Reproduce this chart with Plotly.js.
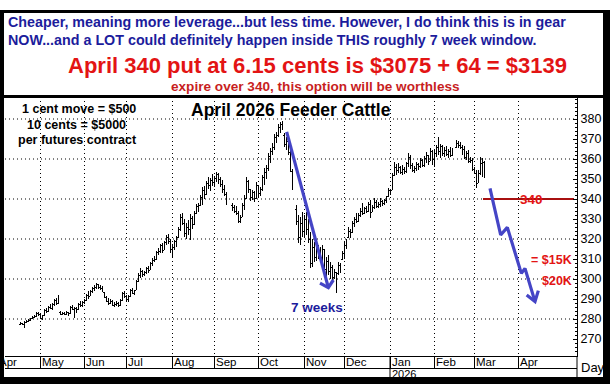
<!DOCTYPE html>
<html><head><meta charset="utf-8">
<script src="https://cdn.plot.ly/plotly-3.0.1.min.js"></script>
<style>
html,body{margin:0;padding:0;background:#fff;}
#wrap{position:relative;width:610px;height:384px;overflow:hidden;background:#fff;}
#chart{position:absolute;left:0;top:0;width:610px;height:384px;}
.b{position:absolute;background:#000;pointer-events:none;}
#chart .ohlc path{shape-rendering:crispEdges !important;}
</style></head><body>
<div id="wrap"><div id="chart"></div>
<div class="b" style="left:0;top:10px;width:610px;height:3px"></div>
<div class="b" style="left:0;top:10px;width:4px;height:374px"></div>
<div class="b" style="left:603px;top:10px;width:7px;height:374px"></div>
<div class="b" style="left:0;top:377px;width:610px;height:7px"></div>
<div class="b" style="left:0;top:95px;width:610px;height:3px"></div>
</div>
<script>
// ---- data (daily bars, April 2026 Feeder Cattle) ----
const firstBarDate = '2025-04-17';
const highs = [
278.5,278,279,279.5,280,280.5,281.5,282,283.5,283.5,
282.5,282,285,285.5,286.5,287.5,288,290,290.5,292,
284,283.5,283.5,284,283.5,286.5,287,286,286,288,
289,289,290,292.5,294,294.5,296,297,298,297.5,
297,296.5,293.5,291.5,290.5,290,289.5,288.5,289,288.5,
290,293.5,294,292,292,295,295.5,294.5,299.5,303,
305.5,304.5,304,306,306.5,308.5,310.5,311.5,314,315.5,
317.5,318,319,322,322.5,320,317.5,319.5,321.5,326,
332.5,333,330,328,329.5,332.5,331.5,334,337.5,338,
342,346,346.5,349,351,350.5,352.5,351.5,353.5,353,
351,349.5,347,343.5,null,null,338,337,336.5,334,
332,338,342,351,349.5,345,344.5,344,348.5,347,
346,352,355.5,357,363,365.5,368,372.5,373.5,377.5,
378.7,379,373,371,370.5,366,355,null,337,332,
331,333.5,332,333.7,330,323.7,320,318.7,318,317,
316,317,315,311,312,308.7,307,305,303.7,308.7,
308,314,318.7,320,326.2,325,329,331,332.8,333,
335.5,337.8,336,336.5,338.7,339.5,337,340.3,339.5,338.5,
340.3,339.5,340,341.5,345.3,345,352.8,358.7,357.5,357.8,
356.5,357,356,358.5,362.8,362,358,356.5,358.7,358,
360.3,360,361.5,363.5,362,365.3,364.5,364.5,367,371.2,
367.5,367,366,366.5,365,366,365.5,null,369.5,369,
368.5,367,366.5,364,364.5,361,360.3,356,354.5,354.5,
361.2,360.5,359];
const lows = [
277,277,275.5,278,278.5,279,280,280.5,281,281.5,
280,279.5,281.5,283,283.5,285,284.5,286.5,287,287.5,
282,282,282,282,281.5,282.5,284.5,280.5,283,284.5,
286,286,287.5,289,290,291.5,293,294,295,295,
294.5,293.5,290.5,288.5,287,287.5,286.5,286,286.5,286,
286.5,289,290.5,289,288.5,291,292.5,292,294.5,298.5,
300.5,301,301.5,302.5,303,304.5,306.5,308.5,309.5,312,
313,313,314.5,317,317.5,313,310.5,314.5,316,320.5,
324,327,321,320,322,319.5,325,327,332.5,333.5,
336.5,337,340,342,345,344,346.5,346,348.5,347.5,
346,343,341.5,337,null,null,334,333,332,328,
327.8,331,334.5,340,343,339,339.5,338.5,340,341,
341.5,344,347,350,354,358,362,364.5,368,371,
373,374.5,366,364.5,362,353.5,344.5,null,327,318,
317,321,320.5,322,318,305.3,306,308.7,309,310,
309,306,303,300.3,302,300,298.7,300,292.8,302,
303,309.5,310,315,320.3,320.5,323,326.2,328,328.5,
331,332,332.5,333,333.7,330.5,333.5,335,335.3,335.3,
336,336.5,337,338,341,342,344.5,351.5,352,353,
352.5,352,352.5,353,356,355,353.7,352.8,354,354.5,
355.3,356,356,358,357,359,357,356.2,361,362,
360.3,361.5,361,361.5,360.3,361,361.5,null,365.5,365.3,
365,362,360,359.5,358,357.8,354,352.8,345.3,347.8,
352,351.2,350.3];
const opens = [
277.5,277.8,277.5,278.5,279,279.5,280.2,281,281.5,283,
282.5,280.5,281.8,284.5,284,286,285.5,287.5,289.5,288,
283.5,282.5,283,282.5,283.5,283,286,285,285.5,285,
287.5,287,288.5,289.5,292,291.5,294,295.5,296,297.5,
296,295.5,293.5,291,289,288,289,287,287.5,288,
287,289.5,293,291.5,290,291.5,294.5,293,294.5,299,
302,304,302.5,303.5,305.5,304.5,308,309.5,310,313.5,
314,317,314.5,318.5,321,319,315,316,319,321,
325,331,328,323,326,325,330.5,327.5,333,336.5,
337,341,344.5,342.5,348,347,349.5,348.5,350.5,352.5,
350,347.5,345,342.5,null,null,337,336,334,333,
329,331,337,340.5,349,345,341,343.5,340.5,347,
343,345,351,353.5,355.5,361.5,364,366,371,372,
376,377.5,372,367.5,369,363.5,354,null,335,329,
321,328,324,330,325,320,308,316,311,316,
313,311,315,305,309,304,306,301,303.5,303,
307,310,313,317,321,324,323.5,328,330,329,
332,334,333,335.5,334,337.5,333.5,336,338.5,336.5,
337.5,339,338,339.5,341.5,344.5,344.5,352,356,354.5,
356,353.5,355,354,358,361,357,354.5,355.5,357.5,
356.5,359.5,357,360.5,362,359,364,360,363,366,
364,366.5,363,364.5,362.5,364,362,null,366,368,
367,366,365,361,363,359,359.5,355,353,348,
353,358,358.5];
const closes = [
277.8,277.5,278.5,279,279.5,280,281,281.5,283,282.5,
280.5,281.5,284.5,284,286,285.5,287.5,289.5,288,291.5,
282.5,283,282.5,283.5,283,286,285,285.5,285,287.5,
287,288.5,289.5,292,291.5,294,295.5,296,297.5,296,
295.5,294,291,289,288,289,287,287.5,288,287,
289.5,293,291.5,290,291.5,294.5,293,294,299,302,
304,302.5,303.5,305.5,304,308,309.5,310,313.5,314,
317,314.5,318.5,321,319,315,316,319,321,325,
331,328,323,326,325,330.5,327,333,336.5,337,
341,344.5,342,348,347,349.5,348.5,350.5,352.5,350,
347.5,345,342.5,337.5,null,null,336,334,333,329,
331,337,340,349,345,341,343.5,340.5,347,343,
345,351,353.5,355.5,361.5,364,366,371,372,376,
377.5,378,367.5,369,363.5,356,345,null,329,321,
328,324,330,325,320,308,316,311,316,313,
311,315,305,309,304,306,301,303.5,301,307,
306,313,317,319,324,323.5,328,330,329,332,
334,333,335.5,334,337.5,333,336,338.5,336.5,337.5,
339,338,339.5,341,344.5,343.5,352,356,354.5,356,
353.5,355,354,358,361,357,354.5,355.5,357.5,356.5,
359.5,357,360.5,362,358.5,364,360,363,366,364,
366.5,363,364.5,362.5,364,362,364.5,null,368,367,
366,365,361,363,359,359.5,355,354,348,352,
358,358.5,351];

// axis ticks and labels
const monthTicks = ['2025-04-01','2025-05-01','2025-06-02','2025-07-01','2025-08-01','2025-09-01','2025-10-01','2025-11-03','2025-12-01','2026-01-01','2026-02-02','2026-03-02','2026-04-01'];
const monthLabels = ['Apr','May','Jun','Jul','Aug','Sep','Oct','Nov','Dec','Jan','Feb','Mar','Apr'];
const yTicks = [270,280,290,300,310,320,330,340,350,360,370,380];
const darkGrid = [280,300,320,340,360,380];
const strikeLevel = 340;

// projected-move arrows (hand-drawn on the original)
const arrow1X = ['2025-10-21 08:00','2025-11-19 04:00',null,'2025-11-13','2025-11-19 04:00','2025-11-21 16:00'];
const arrow1Y = [373.6,295.7,null,297.9,295.7,299.5];
const arrow2X = ['2026-03-12','2026-03-19 08:00','2026-03-24 16:00','2026-04-02 16:00','2026-04-06 12:00','2026-04-13 12:00',null,'2026-04-07 08:00','2026-04-13 12:00','2026-04-15 04:00'];
const arrow2Y = [345.3,322,325.8,302.8,305.3,288.7,null,292,288.7,294.2];

function tradingDays(start, n){
  const out=[]; const d=new Date(start+'T00:00:00Z');
  while(out.length<n){ const w=d.getUTCDay(); if(w!==0&&w!==6) out.push(d.toISOString().slice(0,10)); d.setUTCDate(d.getUTCDate()+1); }
  return out;
}
const allDates = tradingDays(firstBarDate, highs.length);
const keep = highs.map((h,i)=>h!==null);
const pick = arr => arr.filter((v,i)=>keep[i]);

const L=5,R=577,T=97,B=356;
const xp = px => (px-L)/(R-L);
const yp = py => (B-py)/(B-T);
const FONT = 'Liberation Sans, Arial, Helvetica, sans-serif';
const NAVY = '#1c1c9c', RED='#e31414', DRED='#c81e1e', BLUE='#4545c6';

const traces = [
 {type:'ohlc', x:pick(allDates), open:pick(opens), high:pick(highs), low:pick(lows), close:pick(closes),
  increasing:{line:{color:'#000',width:1}}, decreasing:{line:{color:'#000',width:1}},
  tickwidth:0.3, hoverinfo:'skip', showlegend:false},
 {type:'scatter', mode:'lines', x:[ '2026-03-06 12:00','2026-05-11'], y:[strikeLevel,strikeLevel],
  line:{color:'#a81010',width:2}, hoverinfo:'skip', showlegend:false},
 {type:'scatter', mode:'lines', x:arrow1X, y:arrow1Y, connectgaps:false,
  line:{color:BLUE,width:3.2}, hoverinfo:'skip', showlegend:false},
 {type:'scatter', mode:'lines', x:arrow2X, y:arrow2Y, connectgaps:false,
  line:{color:BLUE,width:3.2}, hoverinfo:'skip', showlegend:false}
];

const ann = [];
function txt(text,x,y,opts){ ann.push(Object.assign({text:text,x:x,y:y,xref:'paper',yref:'paper',showarrow:false,xanchor:'center',yanchor:'middle',borderpad:0,font:{family:FONT,size:12,color:'#000'}},opts||{})); }
txt('<b>Cheaper, meaning more leverage...but less time. However, I do think this is in gear</b>', xp(7), yp(22), {xanchor:'left', font:{family:FONT,size:14.3,color:NAVY}});
txt('<b>NOW...and a LOT could definitely happen inside THIS roughly 7 week window.</b>', xp(7), yp(40), {xanchor:'left', font:{family:FONT,size:14.3,color:NAVY}});
txt('<b>April 340 put at 6.15 cents is $3075 + 64 = $3139</b>', xp(317), yp(65), {font:{family:FONT,size:22,color:RED}});
txt('<b>expire over 340, this option will be worthless</b>', xp(315), yp(86), {font:{family:FONT,size:13.6,color:DRED}});
txt('<b>April 2026 Feeder Cattle</b>', xp(291), yp(110), {font:{family:FONT,size:17.5,color:'#000'}});
txt('<b>1 cent move = $500</b>', xp(79), yp(109), {font:{family:FONT,size:12.5,color:'#000'}});
txt('<b>10 cents = $5000</b>', xp(76), yp(125), {font:{family:FONT,size:12.5,color:'#000'}});
txt('<b>per futures contract</b>', xp(77), yp(140), {font:{family:FONT,size:12.5,color:'#000'}});
txt('<b>= $15K</b>', xp(573), yp(260), {xanchor:'right', font:{family:FONT,size:12.5,color:RED}});
txt('<b>$20K</b>', xp(573), yp(281), {xanchor:'right', font:{family:FONT,size:12.5,color:RED}});
txt('Day', xp(593), yp(367), {font:{family:FONT,size:13,color:'#000'}});
// 7 weeks and 340 label in data coords
ann.push({text:'<b>7 weeks</b>', x:'2025-11-11 12:00', y:286, xref:'x', yref:'y', showarrow:false, borderpad:0, font:{family:FONT,size:13.5,color:NAVY}});
ann.push({text:'<b>340</b>', x:'2026-04-09 12:00', y:strikeLevel, xref:'x', yref:'y', showarrow:false, borderpad:0, font:{family:FONT,size:13.5,color:RED}});
// month labels
monthTicks.forEach((d,i)=>{
  if(i===0){ txt(monthLabels[i], xp(-2), yp(362), {xanchor:'left', font:{family:FONT,size:11.5,color:'#000'}}); }
  else ann.push({text:monthLabels[i], x:d, y:yp(362), xref:'x', yref:'paper', xanchor:'left', yanchor:'middle', xshift:1, borderpad:0, showarrow:false, font:{family:FONT,size:11.5,color:'#000'}});
});
ann.push({text:'2026', x:'2026-01-01', y:yp(373.5), xref:'x', yref:'paper', xanchor:'left', yanchor:'middle', xshift:1, borderpad:0, showarrow:false, font:{family:FONT,size:11,color:'#000'}});

const shapes = darkGrid.map(v=>({type:'line', xref:'paper', yref:'y', x0:0, x1:1, y0:v, y1:v, layer:'below', line:{color:'#000',width:1,dash:'1px,3px'}}));
shapes.push({type:'line', xref:'paper', yref:'paper', x0:0, x1:1, y0:yp(368.5), y1:yp(368.5), line:{color:'#000',width:1}});
shapes.push({type:'line', xref:'paper', yref:'paper', x0:1, x1:1, y0:0, y1:yp(377), line:{color:'#000',width:1}});
shapes.push({type:'line', xref:'x', yref:'paper', x0:'2026-01-01', x1:'2026-01-01', y0:0, y1:yp(377), line:{color:'#000',width:1}});

const layout = {
  width:610, height:384, margin:{l:L, r:610-R, t:T, b:384-B, pad:0},
  paper_bgcolor:'#fff', plot_bgcolor:'#fff', showlegend:false,
  font:{family:FONT, size:12, color:'#000'},
  xaxis:{type:'date', range:['2025-04-07 12:00','2026-05-12 12:00'], rangebreaks:[{bounds:['sat','mon']}],
    rangeslider:{visible:false}, tickmode:'array', tickvals:monthTicks, showticklabels:false,
    ticks:'outside', ticklen:12, tickcolor:'#000', tickwidth:1,
    showgrid:true, gridcolor:'#000', gridwidth:1, griddash:'1px,3px',
    showline:true, linecolor:'#000', linewidth:1, zeroline:false, fixedrange:true},
  yaxis:{side:'right', range:[261.5,391], tickmode:'array', tickvals:yTicks,
    ticks:'inside', ticklen:4, tickcolor:'#000', tickwidth:1,
    minor:{dtick:2, tick0:0, ticks:'inside', ticklen:2, tickcolor:'#000', showgrid:false},
    showgrid:false, zeroline:false, showline:true, linecolor:'#000', linewidth:1,
    tickfont:{family:FONT,size:12.5,color:'#000'}, fixedrange:true},
  annotations:ann, shapes:shapes
};
Plotly.newPlot('chart', traces, layout, {staticPlot:true, displayModeBar:false});
</script>
</body></html>
